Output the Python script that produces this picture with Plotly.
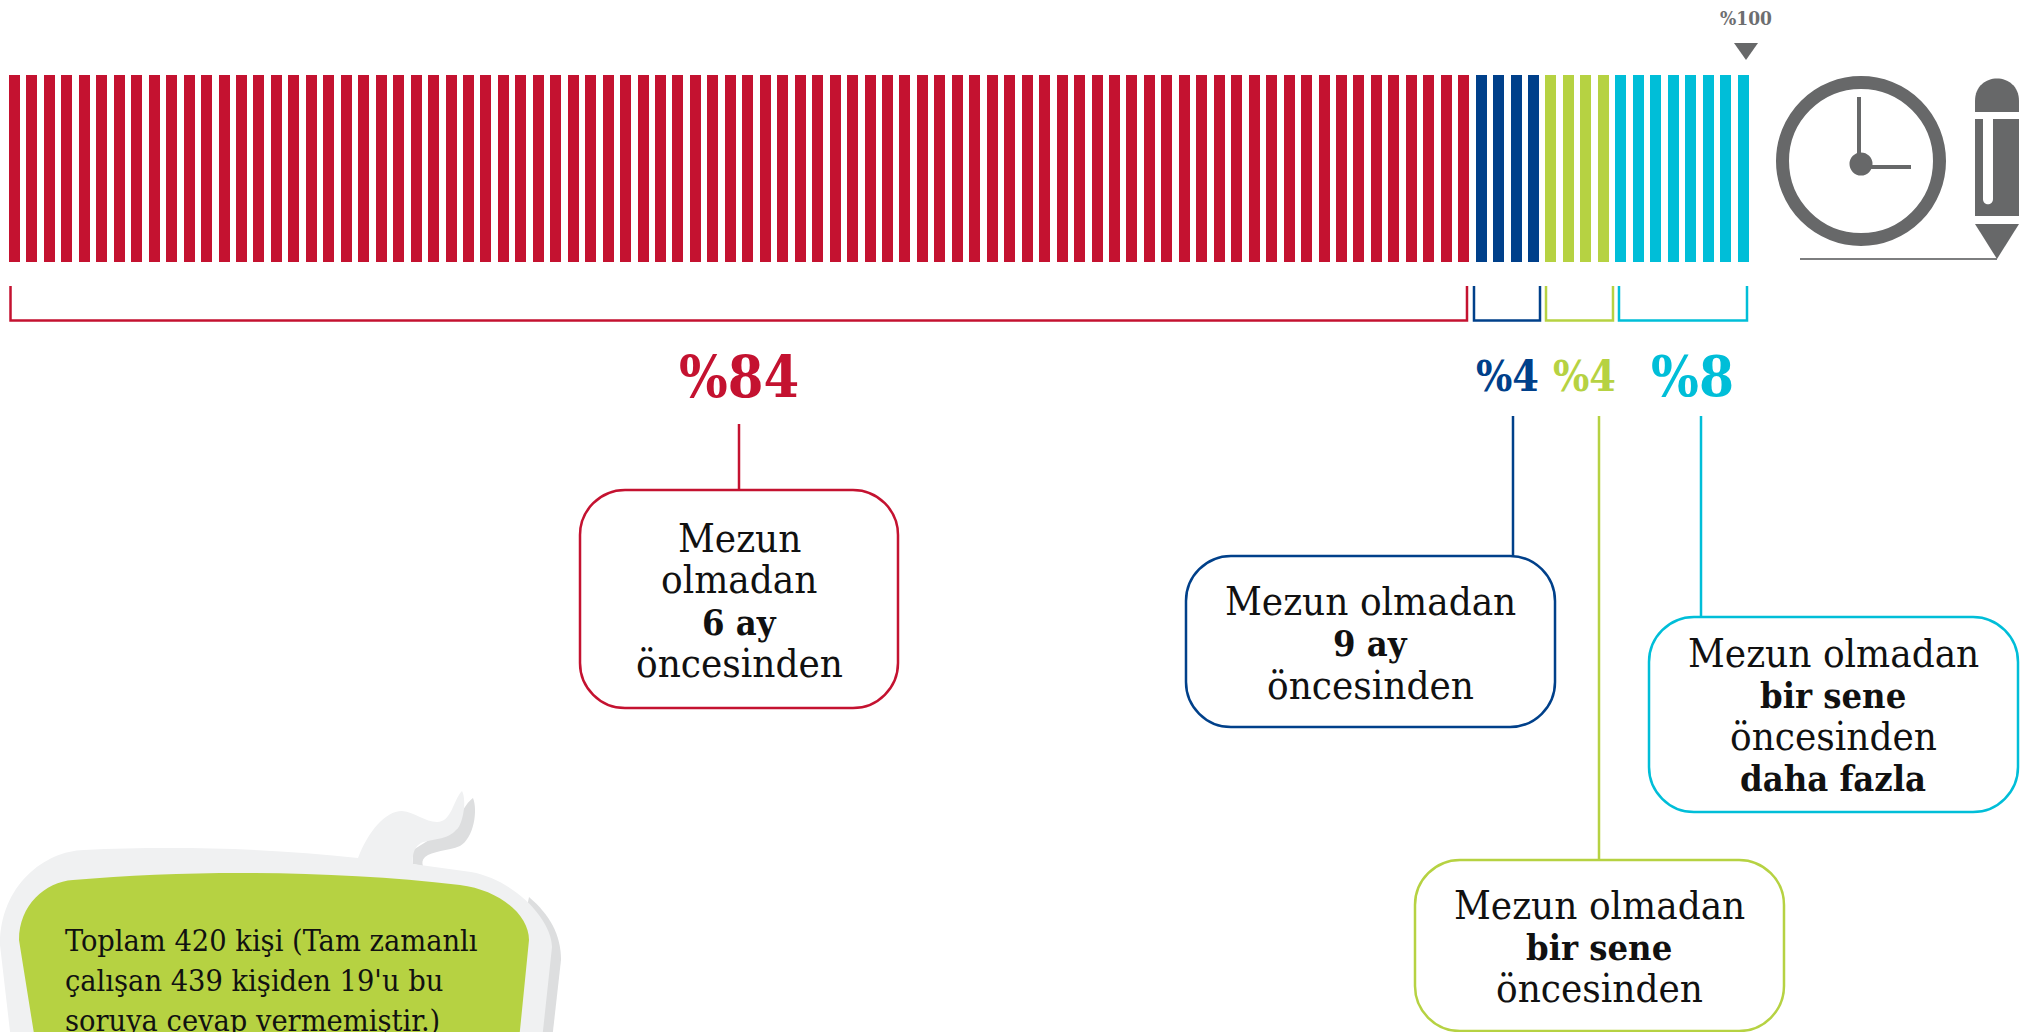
"""Stacked stripe chart: when graduates started looking for a job."""

import plotly.graph_objects as go

WIDTH = 2028
HEIGHT = 1032

RED = "#c41230"
BLUE = "#00408a"
GREEN = "#b6d242"
CYAN = "#00bed8"
GREY = "#676869"

FONT = "DejaVu Serif Condensed"

# One stripe per percent
group_names = ["6 ay", "9 ay", "bir sene", "bir seneden fazla"]
group_shares = [84, 4, 4, 8]
group_colors = [RED, BLUE, GREEN, CYAN]
share_labels = ["%84", "%4", "%4", "%8"]
total_label = "%100"

box_lines = [
    ["Mezun", "olmadan", "<b>6 ay</b>", "öncesinden"],
    ["Mezun olmadan", "<b>9 ay</b>", "öncesinden"],
    ["Mezun olmadan", "<b>bir sene</b>", "öncesinden"],
    ["Mezun olmadan", "<b>bir sene</b>", "öncesinden", "<b>daha fazla</b>"],
]
note_lines = [
    "Toplam 420 kişi (Tam zamanlı",
    "çalışan 439 kişiden 19'u bu",
    "soruya cevap vermemiştir.)",
]

# Layout in page pixels
STRIPE_FIRST = 14.5
STRIPE_PITCH = 17.46
STRIPE_TOP = 75
STRIPE_BOTTOM = 262

brackets = [(10.5, 1467), (1474, 1540), (1546, 1613), (1619, 1747)]
label_pos = [(739, 376, 57), (1507.5, 376, 42.5), (1584.5, 376, 42.5), (1692, 376, 56)]
leaders = [(739, 424, 490), (1513, 416, 556), (1599, 416, 860), (1701, 416, 617)]
boxes = [(580, 490, 898, 708), (1186, 556, 1555, 727), (1415, 860, 1784, 1031), (1649, 617, 2018, 812)]
text_rows = [
    (739, [538, 579, 622, 663]),
    (1370, [601, 643, 685]),
    (1599, [905, 947, 988]),
    (1833, [653, 695, 736, 778]),
]


def px(x):
    return x / WIDTH


def py(y):
    return 1 - y / HEIGHT


def pt(x, y):
    return f"{px(x):.5f},{py(y):.5f}"


def rounded_box(x0, y0, x1, y1, r=45):
    k = r * 0.45
    return (
        f"M {pt(x0 + r, y0)} L {pt(x1 - r, y0)} "
        f"C {pt(x1 - k, y0)} {pt(x1, y0 + k)} {pt(x1, y0 + r)} L {pt(x1, y1 - r)} "
        f"C {pt(x1, y1 - k)} {pt(x1 - k, y1)} {pt(x1 - r, y1)} L {pt(x0 + r, y1)} "
        f"C {pt(x0 + k, y1)} {pt(x0, y1 - k)} {pt(x0, y1 - r)} L {pt(x0, y0 + r)} "
        f"C {pt(x0, y0 + k)} {pt(x0 + k, y0)} {pt(x0 + r, y0)} Z"
    )


def add_path(shapes, path, fill=None, line=None, width=0):
    shapes.append(dict(
        type="path", path=path, xref="paper", yref="paper",
        fillcolor=fill or "rgba(0,0,0,0)",
        line=dict(color=line or "rgba(0,0,0,0)", width=width),
    ))


def add_segment(shapes, x0, y0, x1, y1, color, width):
    shapes.append(dict(
        type="line", xref="paper", yref="paper",
        x0=px(x0), y0=py(y0), x1=px(x1), y1=py(y1),
        line=dict(color=color, width=width),
    ))


def add_circle(shapes, cx, cy, r, fill, line=None, width=0):
    shapes.append(dict(
        type="circle", xref="paper", yref="paper",
        x0=px(cx - r), x1=px(cx + r), y0=py(cy + r), y1=py(cy - r),
        fillcolor=fill, line=dict(color=line or "rgba(0,0,0,0)", width=width),
    ))


def add_text(annotations, text, x, y, size, color="#111111", anchor="center"):
    annotations.append(dict(
        text=text, x=px(x), y=py(y), xref="paper", yref="paper",
        xanchor=anchor, yanchor="middle", showarrow=False,
        font=dict(family=FONT, size=size, color=color),
    ))


fig = go.Figure()

# Stripes
start = 1
for name, share, color in zip(group_names, group_shares, group_colors):
    stripes = list(range(start, start + share))
    fig.add_trace(go.Bar(
        x=stripes,
        y=[1] * share,
        width=0.63,
        name=name,
        marker=dict(color=color, line=dict(width=0)),
        hoverinfo="name",
    ))
    start += share

shapes = []
annotations = []

# Brackets, leader lines, rounded boxes
for color, (x0, x1), (lx, ly0, ly1), box in zip(group_colors, brackets, leaders, boxes):
    add_path(shapes, f"M {pt(x0, 286)} L {pt(x0, 320.5)} L {pt(x1, 320.5)} L {pt(x1, 286)}", line=color, width=2.5)
    add_segment(shapes, lx, ly0, lx, ly1, color, 2.5)
    add_path(shapes, rounded_box(*box), fill="white", line=color, width=2.5)

for label, color, (x, y, size) in zip(share_labels, group_colors, label_pos):
    add_text(annotations, f"<b>{label}</b>", x, y, size, color)

# Bold lines run narrower than the regular ones in the original face
for lines, (x, rows) in zip(box_lines, text_rows):
    for line, y in zip(lines, rows):
        add_text(annotations, line, x, y, 36 if line.startswith("<b>") else 40)

# %100 marker
add_text(annotations, f"<b>{total_label}</b>", 1746, 18, 19, "#6d6e70")
add_path(shapes, f"M {pt(1734, 43)} L {pt(1758, 43)} L {pt(1746, 60)} Z", fill=GREY)

# Clock
add_circle(shapes, 1861, 161, 78.5, "white", GREY, 13)
add_segment(shapes, 1859, 97, 1859, 164, GREY, 4)
add_segment(shapes, 1861, 167, 1911, 167, GREY, 4)
add_circle(shapes, 1861, 164, 11.5, GREY)

# Pencil
add_path(shapes, f"M {pt(1975, 112)} L {pt(1975, 101)} C {pt(1975, 71)} {pt(2019, 71)} {pt(2019, 101)} L {pt(2019, 112)} Z", fill=GREY)
add_path(
    shapes,
    f"M {pt(1975, 119)} L {pt(1983, 119)} L {pt(1983, 199)} C {pt(1983, 206)} {pt(1993, 206)} {pt(1993, 199)} "
    f"L {pt(1993, 119)} L {pt(2019, 119)} L {pt(2019, 216)} L {pt(1975, 216)} Z",
    fill=GREY,
)
add_path(shapes, f"M {pt(1975, 224)} L {pt(2019, 224)} L {pt(1997, 259)} Z", fill=GREY)
add_segment(shapes, 1800, 259, 1997, 259, "#7d7e7f", 2)

# Speech bubble with the sample note
add_path(
    shapes,
    f"M {pt(529, 897)} C {pt(550, 915)} {pt(561, 935)} {pt(561, 960)} L {pt(552, 1040)} L {pt(500, 1040)} Z",
    fill="#dddedf",
)
add_path(
    shapes,
    f"M {pt(413, 864)} L {pt(413, 850)} L {pt(445, 830)} C {pt(458, 825)} {pt(463, 805)} {pt(473, 798)} "
    f"C {pt(478, 810)} {pt(474, 838)} {pt(460, 846)} C {pt(448, 851)} {pt(432, 851)} {pt(425, 857)} "
    f"C {pt(422, 860)} {pt(422, 863)} {pt(423, 866)} Z",
    fill="#dddedf",
)
add_path(
    shapes,
    f"M {pt(11, 1040)} L {pt(0, 945)} C {pt(0, 885)} {pt(45, 851)} {pt(84, 850)} "
    f"C {pt(170, 846)} {pt(270, 848)} {pt(358, 858)} C {pt(368, 832)} {pt(385, 811)} {pt(402, 811)} "
    f"C {pt(415, 812)} {pt(425, 822)} {pt(437, 822)} C {pt(452, 822)} {pt(453, 800)} {pt(462, 791)} "
    f"C {pt(467, 800)} {pt(463, 825)} {pt(456, 830)} C {pt(448, 840)} {pt(430, 839)} {pt(421, 843)} "
    f"C {pt(414, 847)} {pt(412, 855)} {pt(413, 864)} L {pt(471, 872)} C {pt(515, 880)} {pt(552, 920)} {pt(552, 947)} "
    f"L {pt(542, 1040)} Z",
    fill="#f0f1f2",
)
add_path(
    shapes,
    f"M {pt(35, 1040)} L {pt(19, 940)} C {pt(19, 905)} {pt(45, 882)} {pt(73, 880)} "
    f"C {pt(190, 870)} {pt(330, 870)} {pt(460, 885)} C {pt(500, 890)} {pt(529, 915)} {pt(529, 940)} "
    f"L {pt(519, 1040)} Z",
    fill=GREEN,
)
for line, y in zip(note_lines, [940, 980, 1020]):
    add_text(annotations, line, 63, y, 30.4, anchor="left")

fig.update_layout(
    width=WIDTH,
    height=HEIGHT,
    margin=dict(l=0, r=0, t=0, b=0),
    paper_bgcolor="white",
    plot_bgcolor="white",
    showlegend=False,
    bargap=0,
    xaxis=dict(
        range=[1 - STRIPE_FIRST / STRIPE_PITCH, 1 + (WIDTH - STRIPE_FIRST) / STRIPE_PITCH],
        visible=False,
        fixedrange=True,
    ),
    yaxis=dict(
        domain=[py(STRIPE_BOTTOM), py(STRIPE_TOP)],
        range=[0, 1],
        visible=False,
        fixedrange=True,
    ),
    shapes=shapes,
    annotations=annotations,
)

fig.write_html(
    "out.html",
    config={"displayModeBar": False},
    post_script="document.body.style.margin='0';document.body.style.overflow='hidden';",
)
